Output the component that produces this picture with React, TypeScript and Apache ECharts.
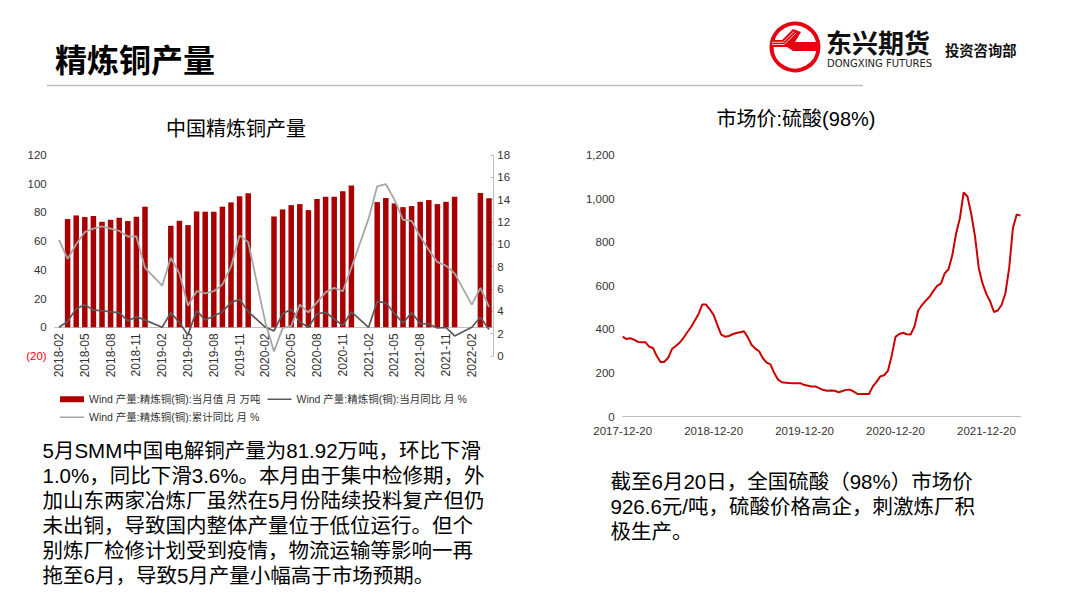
import React, { useEffect, useRef } from 'react';
import * as echarts from 'echarts';

// ---------- Left chart data (China refined copper output) ----------
const months = [
  '2018-02', '2018-03', '2018-04', '2018-05', '2018-06', '2018-07', '2018-08', '2018-09', '2018-10', '2018-11', '2018-12',
  '2019-01', '2019-02', '2019-03', '2019-04', '2019-05', '2019-06', '2019-07', '2019-08', '2019-09', '2019-10', '2019-11', '2019-12',
  '2020-01', '2020-02', '2020-03', '2020-04', '2020-05', '2020-06', '2020-07', '2020-08', '2020-09', '2020-10', '2020-11', '2020-12',
  '2021-01', '2021-02', '2021-03', '2021-04', '2021-05', '2021-06', '2021-07', '2021-08', '2021-09', '2021-10', '2021-11', '2021-12',
  '2022-01', '2022-02', '2022-03', '2022-04',
];

// 当月值 (万吨)
const outputValues = [
  null, 75.4, 77.9, 76.8, 77.5, 73.5, 74.9, 76.3, 74.0, 77.0, 84.0,
  null, null, 70.7, 74.2, 71.2, 80.7, 80.5, 80.5, 84.0, 87.0, 91.2, 93.3,
  null, null, 77.2, 82.1, 85.1, 85.8, 81.6, 89.3, 90.9, 90.9, 94.7, 98.8,
  null, null, 87.2, 90.0, 86.3, 83.7, 84.4, 87.4, 88.6, 85.8, 87.4, 90.9,
  null, null, 93.5, 89.8,
];

// 当月同比 (%), left axis
const monthlyYoY = [
  0, 4, 13, 15.6, 12, 11.6, 10.7, 10.2, 4.4, 7.4, 5,
  null, 0, 10.2, 3.3, -5.3, 11.6, 5.1, 7.9, 10.9, 17.2, 19.5, 10.9,
  null, 0, -2.5, 9.3, 12.8, 3.7, 0, 9.3, 10.5, 5.8, 1.2, 10.7,
  null, 0, 18, 17, 9.8, 2.8, 10.2, 2.6, 2.3, -0.5, 0, -6,
  null, 0, 7, -1.6,
];

// 累计同比 (%), right axis
const cumulativeYoY = [
  10.4, 8.7, 10.0, 11.1, 11.4, 11.6, 11.4, 11.2, 10.7, 10.7, 7.9,
  null, 6.3, 8.8, 7.4, 4.5, 5.8, 5.6, 5.8, 6.4, 8.0, 10.8, 10.2,
  null, 3.0, 0.4, 2.5, 2.7, 4.6, 3.9, 4.8, 5.7, 6.1, 5.8, 7.9,
  null, 12.3, 15.2, 15.4, 14.0, 12.2, 12.1, 10.7, 9.5, 8.4, 8.1, 7.4,
  null, 4.6, 6.1, 4.4,
];

// ---------- Right chart data (sulfuric acid 98% price) ----------
function buildAcidDates(): string[] {
  const out: string[] = ['2017-12-20'];
  let y = 2018;
  let m = 1;
  while (out.length < 106) {
    const mm = String(m).padStart(2, '0');
    out.push(`${y}-${mm}-05`);
    if (out.length < 106) out.push(`${y}-${mm}-20`);
    m += 1;
    if (m > 12) { m = 1; y += 1; }
  }
  return out;
}
const acidDates = buildAcidDates();

const acidPrices = [
  367, 356, 360, 353, 343, 341, 341, 321, 315, 278, 250, 252, 270, 310, 324, 339, 360, 386, 410, 440,
  470, 514, 514, 492, 467, 420, 376, 367, 370, 378,
  384, 387, 392, 365, 330, 312, 300, 268, 248, 240,
  200, 170, 158, 156, 154, 153, 153, 153, 145, 142,
  138, 138, 130, 122, 119, 120, 119, 112, 118, 123,
  124, 115, 104, 104, 104, 104, 138, 160, 185, 190,
  210, 280, 366, 379, 385, 378, 377, 413, 487, 512,
  532, 550, 577, 600, 610, 657, 676, 740, 840, 910,
  1028, 1010, 930, 826, 680, 610, 562, 528, 480, 487,
  512, 565, 680, 865, 927, 922,
];

const leftText = [
  '5月SMM中国电解铜产量为81.92万吨，环比下滑',
  '1.0%，同比下滑3.6%。本月由于集中检修期，外',
  '加山东两家冶炼厂虽然在5月份陆续投料复产但仍',
  '未出铜，导致国内整体产量位于低位运行。但个',
  '别炼厂检修计划受到疫情，物流运输等影响一再',
  '拖至6月，导致5月产量小幅高于市场预期。',
];
const rightText = [
  '截至6月20日，全国硫酸（98%）市场价',
  '926.6元/吨，硫酸价格高企，刺激炼厂积',
  '极生产。',
];

const NAME_BAR = 'Wind 产量:精炼铜(铜):当月值 月 万吨';
const NAME_MOM = 'Wind 产量:精炼铜(铜):当月同比 月 %';
const NAME_CUM = 'Wind 产量:精炼铜(铜):累计同比 月 %';

const FONT = '"Liberation Sans", Arial, "Noto Sans CJK SC", sans-serif';
const CJK = '"Noto Sans CJK SC", "Liberation Sans", sans-serif';

// thin horizontal line icon for legend (keeps full 24x6 bbox, draws a 1.5px bar in the middle)
const LINE_ICON = 'path://M0,0L0.01,0L0,0.01ZM0,2.25L24,2.25L24,3.75L0,3.75ZM24,6L23.99,6L24,5.99Z';

function txt(text: string, x: number, y: number, size: number, opts: any = {}) {
  const align = opts.align || 'left';
  return {
    type: 'text',
    x,
    y,
    style: {
      text,
      fill: opts.fill || '#111',
      fontSize: size,
      fontFamily: opts.family || FONT,
      fontWeight: opts.weight || 'normal',
      align,
      textAlign: align,
      verticalAlign: 'middle',
      textVerticalAlign: 'middle',
    },
  };
}

export default function App() {
  const ref = useRef<HTMLDivElement>(null);

  useEffect(() => {
    if (!ref.current) return;
    const chart = echarts.init(ref.current, null, { renderer: 'svg' });

    const graphics: any[] = [];
    // page title + underline
    graphics.push(txt('精炼铜产量', 55, 57.5, 32, { weight: 'bold', family: CJK, fill: '#000' }));
    graphics.push({
      type: 'line',
      shape: { x1: 47, y1: 85.5, x2: 863, y2: 85.5 },
      style: { stroke: '#bfbfbf', lineWidth: 1.5 },
    });
    // logo
    graphics.push({
      type: 'circle',
      shape: { cx: 795, cy: 47, r: 23.5 },
      style: { fill: '#fff', stroke: '#E60012', lineWidth: 4 },
    });
    graphics.push({
      type: 'polygon',
      shape: {
        points: [[772, 40], [782, 40], [793, 29], [801, 32], [795, 42], [818, 42], [817, 51], [793, 51], [787, 47], [773, 47]],
      },
      style: { fill: '#E60012' },
    });
    graphics.push({
      type: 'polyline',
      shape: { points: [[772, 42.3], [783, 42.3], [794, 31.5]] },
      style: { stroke: '#fff', lineWidth: 0.8, fill: null },
    });
    graphics.push({
      type: 'polyline',
      shape: { points: [[772, 44.5], [784, 44.5], [796, 33]] },
      style: { stroke: '#fff', lineWidth: 0.8, fill: null },
    });
    graphics.push(txt('东兴期货', 826, 41, 26, { weight: 'bold', family: CJK, fill: '#111' }));
    graphics.push(txt('DONGXING FUTURES', 827, 63, 10, { family: '"DejaVu Sans", sans-serif', fill: '#222' }));
    graphics.push(txt('投资咨询部', 945, 49, 14.3, { weight: 'bold', family: CJK, fill: '#111' }));
    // chart titles
    graphics.push(txt('中国精炼铜产量', 236, 127, 20, { align: 'center', family: CJK, fill: '#000' }));
    graphics.push(txt('市场价:硫酸(98%)', 796, 119, 20, { align: 'center', fill: '#000' }));
    // body text
    leftText.forEach((t, i) => graphics.push(txt(t, 42.5, 450.7 + i * 24.9, 20.5, { fill: '#000' })));
    rightText.forEach((t, i) => graphics.push(txt(t, 610.5, 481.7 + i * 25, 20.5, { fill: '#000' })));

    const axisLabelStyle = { color: '#333', fontFamily: FONT };

    chart.setOption({
      animation: false,
      backgroundColor: '#fff',
      textStyle: { fontFamily: FONT },
      graphic: graphics,
      legend: [
        {
          left: 55,
          top: 389,
          itemWidth: 24,
          itemHeight: 6,
          itemGap: 7,
          textStyle: { fontSize: 10.5, color: '#333', fontFamily: FONT },
          data: [{ name: NAME_BAR, icon: 'rect' }, { name: NAME_MOM, icon: LINE_ICON }],
        },
        {
          left: 55,
          top: 407,
          itemWidth: 24,
          itemHeight: 6,
          textStyle: { fontSize: 10.5, color: '#333', fontFamily: FONT },
          data: [{ name: NAME_CUM, icon: LINE_ICON }],
        },
      ],
      grid: [
        { left: 54.7, right: 586.7, top: 155, bottom: 252 },
        { left: 622.7, right: 59.5, top: 155, bottom: 191.3 },
      ],
      xAxis: [
        {
          type: 'category',
          gridIndex: 0,
          data: months,
          boundaryGap: true,
          position: 'bottom',
          offset: -28.7,
          axisLine: { onZero: false, lineStyle: { color: '#bfbfbf', width: 1 } },
          axisTick: { show: false },
          axisLabel: { ...axisLabelStyle, rotate: 90, interval: 2, fontSize: 12, margin: 6 },
          splitLine: { show: false },
        },
        {
          type: 'category',
          gridIndex: 1,
          data: acidDates,
          boundaryGap: false,
          axisLine: { lineStyle: { color: '#bfbfbf', width: 1 } },
          axisTick: { show: false },
          axisLabel: {
            ...axisLabelStyle,
            fontSize: 11.5,
            margin: 9,
            interval: (_i: number, v: string) => v.endsWith('-12-20'),
          },
          splitLine: { show: false },
        },
      ],
      yAxis: [
        {
          type: 'value',
          gridIndex: 0,
          min: -20,
          max: 120,
          interval: 20,
          axisLine: { show: false },
          axisTick: { show: false },
          splitLine: { show: false },
          axisLabel: {
            ...axisLabelStyle,
            fontSize: 11.5,
            margin: 8,
            formatter: (v: number) => (v < 0 ? `{neg|(${-v})}` : `${v}`),
            rich: { neg: { color: '#FF0000', fontSize: 11.5, fontFamily: FONT } },
          },
        },
        {
          type: 'value',
          gridIndex: 0,
          position: 'right',
          min: 0,
          max: 18,
          interval: 2,
          axisLine: { show: true, onZero: false, lineStyle: { color: '#bfbfbf', width: 1 } },
          axisTick: { show: true, inside: true, length: 3, lineStyle: { color: '#bfbfbf' } },
          splitLine: { show: false },
          axisLabel: { ...axisLabelStyle, fontSize: 11.5, margin: 4 },
        },
        {
          type: 'value',
          gridIndex: 1,
          min: 0,
          max: 1200,
          interval: 200,
          axisLine: { show: false },
          axisTick: { show: false },
          splitLine: { show: false },
          axisLabel: {
            ...axisLabelStyle,
            fontSize: 11.5,
            margin: 8,
            formatter: (v: number) => v.toLocaleString('en-US'),
          },
        },
      ],
      series: [
        {
          name: NAME_BAR,
          type: 'bar',
          xAxisIndex: 0,
          yAxisIndex: 0,
          data: outputValues,
          barWidth: 5.5,
          itemStyle: { color: '#A80000' },
        },
        {
          name: NAME_MOM,
          type: 'line',
          xAxisIndex: 0,
          yAxisIndex: 0,
          data: monthlyYoY,
          connectNulls: true,
          symbol: 'none',
          itemStyle: { color: '#595959' },
          lineStyle: { color: '#595959', width: 1.7 },
        },
        {
          name: NAME_CUM,
          type: 'line',
          xAxisIndex: 0,
          yAxisIndex: 1,
          data: cumulativeYoY,
          connectNulls: true,
          symbol: 'none',
          itemStyle: { color: '#A6A6A6' },
          lineStyle: { color: '#A6A6A6', width: 1.8 },
        },
        {
          name: '市场价:硫酸(98%)',
          type: 'line',
          xAxisIndex: 1,
          yAxisIndex: 2,
          data: acidPrices,
          symbol: 'none',
          itemStyle: { color: '#CC0000' },
          lineStyle: { color: '#CC0000', width: 2 },
        },
      ],
    });

    return () => chart.dispose();
  }, []);

  return (
    <div
      ref={ref}
      style={{ position: 'absolute', left: 0, top: 0, width: 1080, height: 608, background: '#fff' }}
    />
  );
}
